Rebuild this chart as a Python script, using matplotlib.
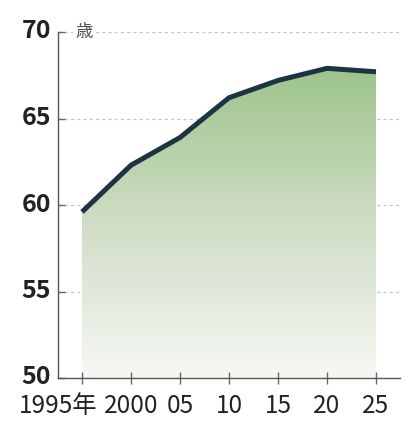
import matplotlib
matplotlib.use("Agg")
import matplotlib.pyplot as plt
import numpy as np
from matplotlib.colors import LinearSegmentedColormap
from matplotlib.transforms import ScaledTranslation

years = [1995, 2000, 2005, 2010, 2015, 2020, 2025]
values = [59.6, 62.3, 63.9, 66.2, 67.2, 67.9, 67.7]
xtick_labels = ["1995年", "2000", "05", "10", "15", "20", "25"]
yticks = [50, 55, 60, 65, 70]

FAM = ['Noto Sans CJK JP', 'DejaVu Sans']

fig = plt.figure(figsize=(4.10, 4.22), dpi=100)
ax = fig.add_axes([58/410, (422-378)/422, (400-58)/410, (378-32)/422])
ax.set_xlim(1992.55, 2027.45)
ax.set_ylim(50, 70)

# grid
for yv in [55, 60, 65, 70]:
    ax.axhline(yv, color='#c4c4c4', lw=0.9, ls=(0, (2.5, 2.5)), zorder=0)

# gradient fill
cmap = LinearSegmentedColormap.from_list('g', ['#f6f8f3', '#d0ddc6', '#9dc48b'])
grad = np.linspace(0, 1, 256).reshape(-1, 1)
poly = ax.fill_between(years, values, 50, color='none', lw=0, zorder=1)
im = ax.imshow(grad, cmap=cmap, aspect='auto', origin='lower',
               extent=[years[0], years[-1], 50, max(values)], zorder=1)
path = poly.get_paths()[0]
im.set_clip_path(path, transform=ax.transData)

ax.plot(years, values, color='#1d3442', lw=3.6, solid_capstyle='butt',
        solid_joinstyle='round', zorder=3)

for s in ['top', 'right']:
    ax.spines[s].set_visible(False)
for s in ['left', 'bottom']:
    ax.spines[s].set_color('#555555')
    ax.spines[s].set_linewidth(1.0)

ax.set_yticks(yticks)
ax.set_yticklabels([str(v) for v in yticks], fontsize=18, fontweight='bold',
                   color='#222222', family=FAM)
ax.tick_params(axis='y', direction='in', length=5, width=1, color='#666666', pad=5)
for lab in ax.get_yticklabels():
    lab.set_transform(lab.get_transform() + ScaledTranslation(0, 3/100, fig.dpi_scale_trans))

ax.set_xticks(years)
ax.set_xticklabels(xtick_labels, fontsize=17.5, color='#222222', family=FAM)
ax.tick_params(axis='x', direction='inout', length=8, width=1, color='#666666', pad=7)
lab0 = ax.get_xticklabels()[0]
lab0.set_transform(lab0.get_transform() + ScaledTranslation(-24/100, 0, fig.dpi_scale_trans))

ax.text(1994.3, 70, "歳", fontsize=12.5, color='#555555', family=FAM,
        va='center', ha='left', zorder=4,
        bbox=dict(facecolor='white', edgecolor='none', pad=1.5))

fig.savefig("out.png", dpi=100)
